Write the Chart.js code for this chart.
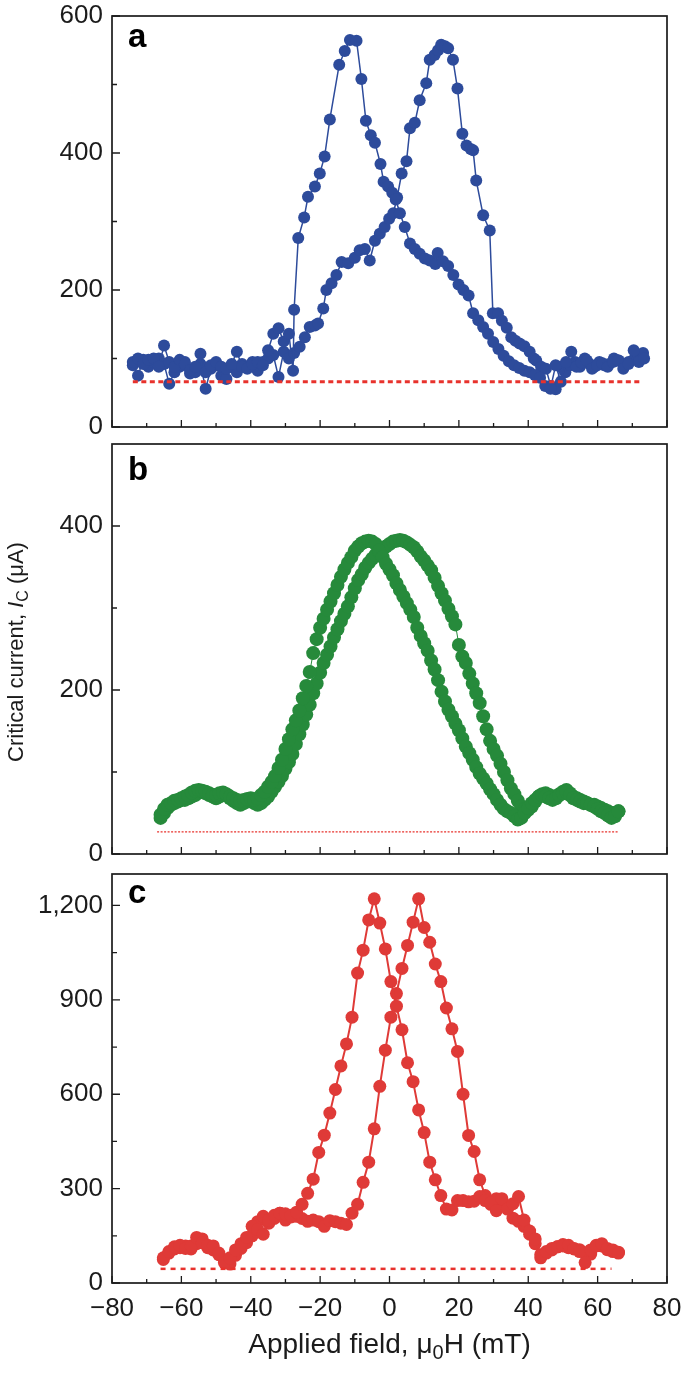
<!DOCTYPE html>
<html>
<head>
<meta charset="utf-8">
<script src="https://cdn.jsdelivr.net/npm/chart.js@4.4.0/dist/chart.umd.min.js"></script>
<style>
  html, body { margin: 0; padding: 0; background: #fff; }
  #page { position: relative; width: 685px; height: 1373px; overflow: hidden; background: #fff; }
  .panel { position: absolute; left: 0; width: 685px; }
</style>
</head>
<body>
<div id="page">
  <div class="panel" style="top:0px;height:460px"><canvas id="chartA" width="685" height="460"></canvas></div>
  <div class="panel" style="top:420px;height:460px"><canvas id="chartB" width="685" height="460"></canvas></div>
  <div class="panel" style="top:850px;height:523px"><canvas id="chartC" width="685" height="523"></canvas></div>
</div>
<script>
// ---- axis ticks / labels ----
const xTickLabels = [-80, -60, -40, -20, 0, 20, 40, 60, 80];
const xMinorTicks = [-70, -50, -30, -10, 10, 30, 50, 70];
const aYTicks = [0, 200, 400, 600];
const aYMinor = [100, 300, 500];
const bYTicks = [0, 200, 400];
const bYMinor = [100, 300];
const cYTicks = [0, 300, 600, 900, 1200];
const cYMinor = [150, 450, 750, 1050];
const xTitleParts = [{ t: 'Applied field, \u03bc' }, { t: '0', sub: true }, { t: 'H (mT)' }];
const yTitleParts = [{ t: 'Critical current, ' }, { t: 'I', it: true }, { t: 'C', sub: true }, { t: ' (\u03bcA)' }];

// ---- panel a (mT, uA) ----
const aField1 = [-74, -72.5, -71, -69.5, -68, -66.5, -65, -63.5, -62, -60.5,
  -59, -57.5, -56, -54.5, -53, -51.5, -50, -48.5, -47, -45.5,
  -44, -42.5, -41, -39.5, -38, -36.5, -35, -33.5, -32, -30.5,
  -29, -27.8, -27.5, -26.3, -24.6, -23.5, -21.5, -20.1, -18.7, -17.2,
  -14.5, -12.9, -11.4, -9.5, -8.1, -6.8, -5.4, -4.2, -2.6, -1.7,
  -0.4, 0.8, 1.8, 3.0, 4.4, 5.9, 7.3, 8.7, 10.2, 11.6,
  13.2, 13.9, 15.4, 16.9, 18.4, 19.9, 21.3, 22.8, 24.1, 25.6,
  27.0, 28.4, 29.9, 31.4, 32.9, 34.4, 35.9, 37.4, 38.9, 40.4,
  41.9, 43.4, 44.9, 46.4, 47.9, 49.4, 50.9, 52.4, 53.9, 55.4,
  56.9, 58.4, 59.9, 61.4, 62.9, 64.4, 65.9, 67.4, 68.9, 70.4,
  71.9, 73.4];
const aCurrent1 = [95, 100, 92, 98, 100, 88, 119, 95, 88, 98,
  92, 83, 88, 107, 80, 90, 95, 88, 85, 92,
  110, 88, 85, 92, 95, 90, 112, 136, 144, 125,
  136, 82, 171, 276, 306, 336, 351, 370, 395, 449,
  529, 549, 565, 564, 508, 447, 426, 415, 384, 358,
  351, 342, 332, 312, 292, 268, 260, 253, 246, 243,
  238, 254, 242, 235, 222, 208, 200, 192, 166, 156,
  146, 136, 124, 114, 104, 96, 90, 86, 82, 80,
  76, 72, 60, 56, 90, 66, 95, 110, 88, 94,
  97, 85, 90, 93, 88, 95, 97, 85, 92, 112,
  95, 100];
const aField2 = [-74, -72.5, -71, -69.5, -68, -66.5, -65, -63.5, -62, -60.5,
  -59, -57.5, -56, -54.5, -53, -51.5, -50, -48.5, -47, -45.5,
  -44, -42.5, -41, -39.5, -38, -36.5, -35, -33.5, -32, -30.5,
  -29, -27.5, -25.9, -24.4, -23, -21.5, -20.6, -19.1, -18.2, -16.7,
  -15.3, -13.8, -11.9, -10, -8.6, -7.1, -5.7, -4.2, -2.8, -1.4,
  -0.1, 1.1, 2.2, 3.5, 4.9, 5.9, 7.3, 8.7, 10.6, 11.6,
  13.0, 14.0, 14.9, 16.0, 16.9, 18.3, 19.6, 21.0, 22.2, 23.4,
  24.1, 25.0, 27.0, 28.9, 29.8, 31.3, 32.4, 33.8, 35.1, 36.3,
  37.5, 38.9, 40.4, 41.6, 42.3, 43.7, 45.1, 46.5, 47.9, 49.3,
  50.7, 52.1, 53.5, 54.9, 56.3, 57.7, 59.1, 60.5, 61.9, 63.3,
  64.7, 66.1, 67.5, 68.9, 70.3, 71.7, 73.1];
const aCurrent2 = [90, 75, 98, 88, 95, 100, 92, 63, 80, 88,
  95, 78, 80, 92, 56, 85, 90, 75, 70, 88,
  80, 92, 88, 95, 82, 95, 100, 105, 73, 110,
  100, 108, 117, 131, 146, 148, 151, 173, 200, 210,
  222, 241, 239, 247, 258, 260, 243, 272, 282, 292,
  304, 312, 335, 370, 388, 436, 444, 477, 502, 536,
  543, 550, 558, 556, 553, 536, 494, 428, 411, 406,
  404, 360, 309, 287, 166, 166, 155, 145, 131, 126,
  122, 118, 110, 100, 97, 88, 85, 60, 55, 88,
  80, 90, 95, 88, 100, 92, 88, 95, 90, 92,
  100, 97, 90, 95, 98, 105, 108];
const aFloorField = [-74, 73];
const aFloorCurrent = [66, 66];

// ---- panel b ----
const bField = [-66, -65, -64, -63, -62, -61, -60, -59, -58, -57,
  -56, -55, -54, -53, -52, -51, -50, -49, -48, -47,
  -46, -45, -44, -43, -42, -41, -40, -39, -38, -37,
  -36, -35, -34, -33, -32, -31, -30, -29, -28, -27,
  -26, -25, -24, -23, -22, -21, -20, -19, -18, -17,
  -16, -15, -14, -13, -12, -11, -10, -9, -8, -7,
  -6, -5, -4, -3, -2, -1, 0, 1, 2, 3,
  4, 5, 6, 7, 8, 9, 10, 11, 12, 13,
  14, 15, 16, 17, 18, 19, 20, 21, 22, 23,
  24, 25, 26, 27, 28, 29, 30, 31, 32, 33,
  34, 35, 36, 37, 38, 39, 40, 41, 42, 43,
  44, 45, 46, 47, 48, 49, 50, 51, 52, 53,
  54, 55, 56, 57, 58, 59, 60, 61, 62, 63,
  64, 65, 66];
const bCurrent1 = [48, 55, 60, 62, 65, 66, 68, 70, 72, 75,
  77, 78, 77, 76, 74, 72, 72, 74, 75, 73,
  70, 68, 66, 65, 66, 67, 68, 66, 68, 72,
  76, 82, 88, 95, 105, 115, 128, 140, 152, 163,
  175, 190, 205, 222, 245, 262, 276, 287, 298, 308,
  318, 328, 338, 347, 355, 362, 370, 375, 379, 381,
  382, 381, 378, 370, 362, 354, 347, 340, 330, 322,
  314, 306, 298, 289, 276, 266, 257, 248, 236, 225,
  212, 198, 186, 176, 168, 159, 151, 141, 131, 123,
  115, 106, 98, 92, 86, 79, 73, 66, 60, 55,
  52, 50, 46, 42, 44, 50, 56, 62, 66, 70,
  72, 70, 68, 66, 68, 72, 74, 76, 72, 68,
  66, 64, 62, 62, 60, 58, 55, 52, 50, 47,
  44, 46, 52];
const bCurrent2 = [44, 50, 56, 60, 62, 64, 66, 66, 68, 70,
  72, 75, 76, 74, 72, 70, 68, 70, 72, 72,
  68, 65, 62, 60, 62, 64, 66, 62, 60, 62,
  66, 70, 76, 82, 88, 95, 104, 112, 122, 134,
  146, 158, 170, 182, 196, 208, 221, 233, 243, 253,
  264, 274, 284, 293, 302, 313, 324, 334, 341, 349,
  355, 360, 365, 368, 371, 375, 378, 381, 382, 383,
  382, 380, 377, 374, 369, 363, 358, 352, 346, 337,
  327, 318, 309, 299, 290, 280, 255, 241, 233, 220,
  208, 196, 184, 168, 152, 138, 128, 120, 110, 100,
  90, 80, 73, 65, 58, 55, 54, 58, 64, 70,
  73, 74, 72, 70, 70, 73, 76, 78, 74, 70,
  68, 66, 64, 62, 60, 60, 58, 56, 54, 52,
  50, 50, 52];
const bFloorField = [-67, 66];
const bFloorCurrent = [27, 27];

// ---- panel c ----
const cField = [-65.2, -63.6, -62.0, -60.4, -58.8, -57.2, -55.6, -54.0, -52.4, -50.8,
  -49.2, -47.6, -46.0, -44.4, -42.8, -41.2, -39.6, -38.0, -36.4, -34.8,
  -33.2, -31.6, -30.0, -28.4, -26.8, -25.2, -23.6, -22.0, -20.4, -18.8,
  -17.2, -15.6, -14.0, -12.4, -10.8, -9.2, -7.6, -6.0, -4.4, -2.8,
  -1.2, 0.4, 2.0, 3.6, 5.2, 6.8, 8.4, 10.0, 11.6, 13.2,
  14.8, 16.4, 18.0, 19.6, 21.2, 22.8, 24.4, 26.0, 27.6, 29.2,
  30.8, 32.4, 34.0, 35.6, 37.2, 38.8, 40.4, 42.0, 43.6, 45.2,
  46.8, 48.4, 50.0, 51.6, 53.2, 54.8, 56.4, 58.0, 59.6, 61.2,
  62.8, 64.4, 66.0];
const cCurrent1 = [80, 100, 115, 120, 110, 118, 145, 128, 120, 118,
  95, 65, 80, 105, 125, 145, 180, 170, 155, 200,
  215, 222, 220, 215, 225, 250, 285, 330, 415, 470,
  540, 615, 690, 760, 845, 985, 1058, 1154, 1221, 1144,
  1062, 958, 880, 805, 700, 640, 550, 478, 384, 328,
  278, 235, 232, 262, 262, 258, 260, 275, 262, 255,
  230, 268, 235, 252, 275, 200, 165, 140, 90, 100,
  110, 115, 118, 120, 110, 100, 65, 105, 118, 125,
  110, 105, 95];
const cCurrent2 = [75, 95, 108, 112, 118, 108, 125, 140, 112, 105,
  90, 72, 60, 88, 110, 128, 150, 195, 212, 190,
  205, 222, 200, 210, 212, 205, 196, 200, 195, 180,
  198, 195, 190, 186, 222, 250, 320, 384, 490, 625,
  740, 845, 920, 1000, 1073, 1147, 1221, 1130, 1083, 1014,
  958, 874, 808, 736, 600, 469, 418, 328, 278, 250,
  268, 255, 238, 206, 196, 180, 155, 125, 80, 95,
  105, 115, 122, 112, 108, 106, 95, 92, 120, 118,
  106, 100, 98];
const cFloorField = [-66, 64];
const cFloorCurrent = [45, 45];

// ---- styling ----
const FONT = "'Liberation Sans', Arial, Helvetica, sans-serif";
const INK = '#1b1b1b';
const BLUE = '#2d4b9b';
const GREEN = '#268a3b';
const RED = '#df3a37';
const FLOOR_RED = '#e8322c';
const TICK_SIZE = 26;

const pts = (xs, ys) => xs.map((x, i) => ({ x, y: ys[i] }));

function sweep(xs, ys, color, r, lw) {
  return {
    data: pts(xs, ys),
    borderColor: color,
    backgroundColor: color,
    pointBackgroundColor: color,
    pointBorderWidth: 0,
    pointRadius: r,
    pointHoverRadius: r,
    borderWidth: lw,
    order: 1
  };
}

function floorLine(xs, ys, width, dash) {
  return {
    data: pts(xs, ys),
    borderColor: FLOOR_RED,
    borderWidth: width,
    borderDash: dash,
    pointRadius: 0,
    order: 0
  };
}

function drawRich(ctx, parts, cx, cy, size) {
  const fontOf = p => `${p.it ? 'italic ' : ''}${p.sub ? Math.round(size * 0.72) : size}px ${FONT}`;
  const widths = parts.map(p => { ctx.font = fontOf(p); return ctx.measureText(p.t).width; });
  let x = cx - widths.reduce((s, w) => s + w, 0) / 2;
  ctx.textAlign = 'left';
  ctx.textBaseline = 'middle';
  parts.forEach((p, i) => {
    ctx.font = fontOf(p);
    ctx.fillText(p.t, x, cy + (p.sub ? size * 0.32 : 0));
    x += widths[i];
  });
}

// frame, inward ticks, panel letter, axis titles
const panelDecor = {
  id: 'panelDecor',
  afterDraw(chart, args, o) {
    const { ctx, chartArea: area } = chart;
    const xs = chart.scales.x, ys = chart.scales.y;
    ctx.save();
    ctx.strokeStyle = INK;
    ctx.lineWidth = 1.3;
    ctx.beginPath();
    xTickLabels.forEach(v => {
      const px = xs.getPixelForValue(v);
      ctx.moveTo(px, area.bottom); ctx.lineTo(px, area.bottom - 7);
    });
    xMinorTicks.forEach(v => {
      const px = xs.getPixelForValue(v);
      ctx.moveTo(px, area.bottom); ctx.lineTo(px, area.bottom - 4);
    });
    o.yMajor.forEach(v => {
      const py = ys.getPixelForValue(v);
      ctx.moveTo(area.left, py); ctx.lineTo(area.left + 8, py);
    });
    o.yMinor.forEach(v => {
      const py = ys.getPixelForValue(v);
      ctx.moveTo(area.left, py); ctx.lineTo(area.left + 5, py);
    });
    ctx.stroke();
    ctx.lineWidth = 1.7;
    ctx.strokeRect(area.left, area.top, area.right - area.left, area.bottom - area.top);

    ctx.fillStyle = '#000';
    ctx.font = `bold 33px ${FONT}`;
    ctx.textAlign = 'left';
    ctx.textBaseline = 'alphabetic';
    ctx.fillText(o.letter, area.left + 16, area.top + o.letterDy);

    ctx.fillStyle = INK;
    if (o.xTitle) {
      drawRich(ctx, xTitleParts, (area.left + area.right) / 2, o.xTitle, 28);
    }
    if (o.yTitle) {
      ctx.translate(17, o.yTitle);
      ctx.rotate(-Math.PI / 2);
      drawRich(ctx, yTitleParts, 0, 0, 22);
    }
    ctx.restore();
  }
};

const fmtX = v => (v < 0 ? '\u2212' + Math.abs(v) : String(v));
const fmtY = v => v.toLocaleString('en-US');

function makePanel(id, p) {
  return new Chart(document.getElementById(id), {
    type: 'line',
    data: { datasets: p.datasets },
    options: {
      responsive: false,
      animation: false,
      devicePixelRatio: 1,
      events: [],
      layout: { padding: { left: 0, right: 18, top: p.padTop, bottom: p.padBottom } },
      plugins: {
        legend: { display: false },
        tooltip: { enabled: false },
        panelDecor: p.decor
      },
      scales: {
        x: {
          type: 'linear',
          min: -80,
          max: 80,
          display: p.showX,
          grid: { display: false, drawTicks: false },
          border: { display: false },
          afterBuildTicks: s => { s.ticks = xTickLabels.map(v => ({ value: v })); },
          afterFit: s => {
            if (p.showX) s.height = 90;
            s.paddingLeft = 0;
            s.paddingRight = 0;
          },
          ticks: {
            autoSkip: false,
            maxRotation: 0,
            padding: 10,
            color: INK,
            font: { family: FONT, size: TICK_SIZE },
            callback: fmtX
          }
        },
        y: {
          type: 'linear',
          min: 0,
          max: p.yMax,
          grid: { display: false, drawTicks: false },
          border: { display: false },
          afterBuildTicks: s => { s.ticks = p.yTicks.map(v => ({ value: v })); },
          afterFit: s => {
            s.width = 112;
            s.paddingTop = 0;
            s.paddingBottom = 0;
          },
          ticks: {
            autoSkip: false,
            padding: 9,
            color: INK,
            font: { family: FONT, size: TICK_SIZE },
            callback: fmtY
          }
        }
      }
    },
    plugins: [panelDecor]
  });
}

makePanel('chartA', {
  datasets: [
    floorLine(aFloorField, aFloorCurrent, 3, [5, 3.5]),
    sweep(aField1, aCurrent1, BLUE, 6, 1.5),
    sweep(aField2, aCurrent2, BLUE, 6, 1.5)
  ],
  yMax: 600, yTicks: aYTicks, padTop: 16, padBottom: 33, showX: false,
  decor: { yMajor: aYTicks, yMinor: aYMinor, letter: 'a', letterDy: 31 }
});

makePanel('chartB', {
  datasets: [
    floorLine(bFloorField, bFloorCurrent, 1.2, [2, 1.5]),
    sweep(bField, bCurrent1, GREEN, 7, 1),
    sweep(bField, bCurrent2, GREEN, 7, 1)
  ],
  yMax: 500, yTicks: bYTicks, padTop: 24, padBottom: 26, showX: false,
  decor: { yMajor: bYTicks, yMinor: bYMinor, letter: 'b', letterDy: 36, yTitle: 232 }
});

makePanel('chartC', {
  datasets: [
    floorLine(cFloorField, cFloorCurrent, 2.5, [5, 5]),
    sweep(cField, cCurrent1, RED, 6.5, 2),
    sweep(cField, cCurrent2, RED, 6.5, 2)
  ],
  yMax: 1300, yTicks: cYTicks, padTop: 24, padBottom: 0, showX: true,
  decor: { yMajor: cYTicks, yMinor: cYMinor, letter: 'c', letterDy: 29, xTitle: 495 }
});
</script>
</body>
</html>
